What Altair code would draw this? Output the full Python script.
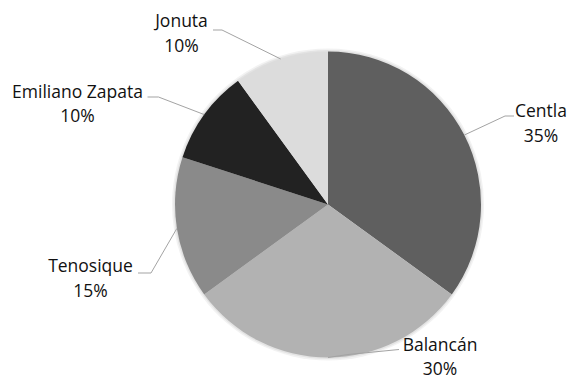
import math
import altair as alt
import pandas as pd

# ---- data ----
names = ["Centla", "Balancán", "Tenosique", "Emiliano Zapata", "Jonuta"]
shares = [35, 30, 15, 10, 10]
pct_labels = ["35%", "30%", "15%", "10%", "10%"]
colors = ["#5f5f5f", "#b2b2b2", "#8a8a8a", "#222222", "#dcdcdc"]

# ---- layout (pixels relative to pie centre, y downwards) ----
R = 153
label_dx = [213, 112, -237.5, -250.5, -146.5]
name_dy = [-87.5, 146, 67.5, -106.5, -177.5]
pct_gap = [25, 24, 25, 24, 25]
elbow = [(177, -88.5), (20, 150), (-177, 68.5), (-169.5, -107.5), (-106, -174.5)]
leader_end = [(186, -88.5), (71, 145), (-190, 68.5), (-180.5, -107.5), (-115, -174.5)]

pie = pd.DataFrame({"name": names, "share": shares, "idx": list(range(len(names)))})

# mid-angle of each slice (clockwise from 12 o'clock)
total = sum(shares)
mids = []
acc = 0
for s in shares:
    mids.append((acc + s / 2) / total * 2 * math.pi)
    acc += s

rows = []
for i, n in enumerate(names):
    sx = R * math.sin(mids[i])
    sy = -R * math.cos(mids[i])
    for k, (px, py) in enumerate([(sx, sy), elbow[i], leader_end[i]]):
        rows.append({"name": n, "k": k, "x": px, "y": py})
lines = pd.DataFrame(rows)

labels = pd.DataFrame({
    "name": names,
    "pct": pct_labels,
    "x": label_dx,
    "y1": name_dy,
    "y2": [d + g for d, g in zip(name_dy, pct_gap)],
})

W, H = 300, 310
xs = alt.Scale(domain=[-W / 2, W / 2], nice=False, zero=False)
ys = alt.Scale(domain=[-H / 2, H / 2], nice=False, zero=False, reverse=True)

shadow = alt.Chart(pie).mark_arc(outerRadius=R + 3, color="#000000", opacity=0.05).encode(
    theta=alt.Theta("share:Q", stack=True), order=alt.Order("idx:Q")
)
shadow2 = alt.Chart(pie).mark_arc(outerRadius=R + 1.5, color="#000000", opacity=0.06).encode(
    theta=alt.Theta("share:Q", stack=True), order=alt.Order("idx:Q")
)

arcs = alt.Chart(pie).mark_arc(outerRadius=R).encode(
    theta=alt.Theta("share:Q", stack=True),
    color=alt.Color("name:N", scale=alt.Scale(domain=names, range=colors), legend=None),
    order=alt.Order("idx:Q"),
)

leaders = alt.Chart(lines).mark_line(color="#a3a3a3", strokeWidth=1).encode(
    x=alt.X("x:Q", scale=xs, axis=None),
    y=alt.Y("y:Q", scale=ys, axis=None),
    detail="name:N",
    order="k:Q",
)

font = "Open Sans"
name_text = alt.Chart(labels).mark_text(
    font=font, fontSize=17.5, color="#111111", align="center", baseline="alphabetic"
).encode(
    x=alt.X("x:Q", scale=xs, axis=None),
    y=alt.Y("y1:Q", scale=ys, axis=None),
    text="name:N",
)
pct_text = alt.Chart(labels).mark_text(
    font=font, fontSize=17.5, color="#111111", align="center", baseline="alphabetic"
).encode(
    x=alt.X("x:Q", scale=xs, axis=None),
    y=alt.Y("y2:Q", scale=ys, axis=None),
    text="pct:N",
)

chart = alt.layer(shadow, shadow2, arcs, leaders, name_text, pct_text).properties(
    width=W,
    height=H,
    autosize="none",
    padding={"left": 170, "top": 41.5, "right": 91, "bottom": 20.5},
).configure_view(stroke=None)

chart.save("out.html", embed_options={"renderer": "svg", "actions": False})
